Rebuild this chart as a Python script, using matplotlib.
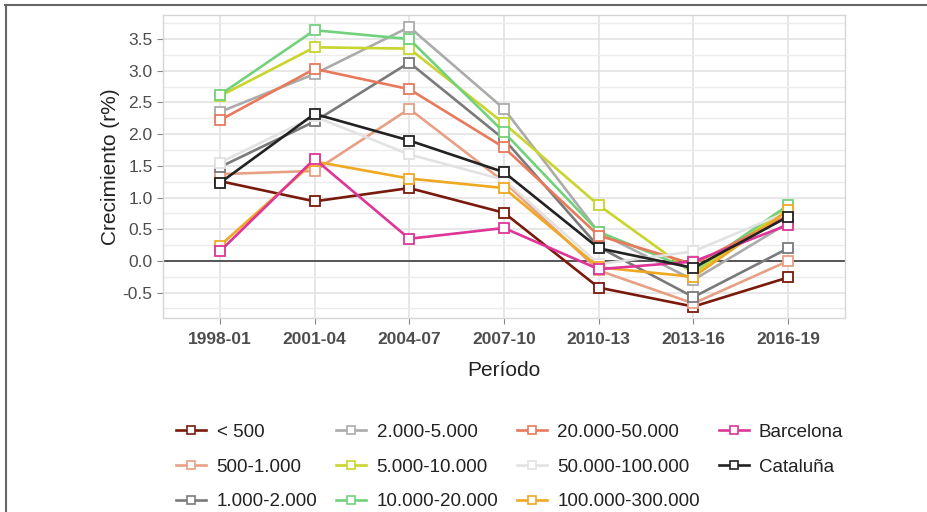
import matplotlib
matplotlib.use("Agg")
import matplotlib.pyplot as plt
from matplotlib.lines import Line2D
from matplotlib.ticker import MultipleLocator

plt.rcParams['font.family'] = ['Liberation Sans', 'DejaVu Sans']

periodos = ['1998-01', '2001-04', '2004-07', '2007-10', '2010-13', '2013-16', '2016-19']

grupos = ['< 500', '500-1.000', '1.000-2.000', '2.000-5.000', '5.000-10.000',
          '10.000-20.000', '20.000-50.000', '50.000-100.000', '100.000-300.000',
          'Barcelona', 'Cataluña']

menos_500 = [1.26, 0.94, 1.15, 0.76, -0.42, -0.72, -0.26]
g500_1000 = [1.37, 1.42, 2.40, 1.25, -0.15, -0.67, 0.00]
g1000_2000 = [1.48, 2.20, 3.13, 1.92, 0.22, -0.57, 0.20]
g2000_5000 = [2.35, 2.95, 3.69, 2.40, 0.45, -0.30, 0.60]
g5000_10000 = [2.60, 3.37, 3.35, 2.17, 0.88, -0.20, 0.84]
g10000_20000 = [2.62, 3.64, 3.50, 2.03, 0.46, -0.15, 0.88]
g20000_50000 = [2.22, 3.03, 2.71, 1.79, 0.40, -0.05, 0.72]
g50000_100000 = [1.55, 2.28, 1.68, 1.28, -0.05, 0.15, 0.78]
g100000_300000 = [0.24, 1.57, 1.30, 1.15, -0.10, -0.25, 0.80]
barcelona = [0.15, 1.61, 0.35, 0.52, -0.13, -0.01, 0.57]
cataluna = [1.23, 2.32, 1.90, 1.40, 0.20, -0.11, 0.70]

series = [menos_500, g500_1000, g1000_2000, g2000_5000, g5000_10000, g10000_20000,
          g20000_50000, g50000_100000, g100000_300000, barcelona, cataluna]

colores = ['#7a1a0c', '#e8a084', '#7a7a7a', '#ababab', '#c9d42c', '#72d27c',
           '#e87a5c', '#e2e2e2', '#f0a822', '#de3598', '#222222']

fig = plt.figure(figsize=(9.28, 5.12), dpi=100)
ax = fig.add_axes([163 / 928, 1 - 318 / 512, (845 - 163) / 928, (318 - 15) / 512])

x = list(range(len(periodos)))

# grid de fondo
ax.set_axisbelow(True)
ax.yaxis.set_major_locator(MultipleLocator(0.5))
ax.yaxis.set_minor_locator(MultipleLocator(0.25))
ax.grid(which='major', color='#e3e3e3', linewidth=1.2)
ax.grid(which='minor', axis='y', color='#ececec', linewidth=1.0)
ax.axhline(0, color='#555555', linewidth=1.4, zorder=1.5)

for nombre, valores, color in zip(grupos, series, colores):
    ax.plot(x, valores, color=color, linewidth=1.9, marker='s', markersize=7,
            markerfacecolor='white', markeredgecolor=color, markeredgewidth=1.3,
            label=nombre, zorder=2)

ax.set_xlim(-0.6, 6.6)
ax.set_ylim(-0.9, 3.88)
ax.set_xticks(x)
ax.set_xticklabels(periodos, fontweight='bold')
ax.set_yticks([-0.5, 0.0, 0.5, 1.0, 1.5, 2.0, 2.5, 3.0, 3.5])
ax.set_yticklabels(['-0.5', '0.0', '0.5', '1.0', '1.5', '2.0', '2.5', '3.0', '3.5'])

ax.tick_params(axis='both', which='major', colors='#888888', length=4, width=0.8,
               labelsize=12.5, labelcolor='#4d4d4d')
ax.tick_params(axis='y', which='minor', length=0)
ax.tick_params(axis='x', pad=6)

for s in ax.spines.values():
    s.set_color('#d6d6d6')
    s.set_linewidth(1.0)

ax.set_xlabel('Período', fontsize=15, color='#222222', labelpad=10)
ax.set_ylabel('Crecimiento (r%)', fontsize=15, color='#222222', labelpad=2)

handles = [Line2D([0], [0], color=c, linewidth=1.9, marker='s', markersize=6,
                  markerfacecolor='white', markeredgecolor=c, markeredgewidth=1.2)
           for c in colores]
fig.legend(handles, grupos, loc='center left', bbox_to_anchor=(167 / 928, 1 - 467 / 512),
           ncol=4, frameon=False, fontsize=13.5, handlelength=1.6, handletextpad=0.55,
           columnspacing=1.0, labelspacing=0.94, borderpad=0, labelcolor='#222222')

# marco exterior
fig.add_artist(Line2D([5 / 928, 1], [1 - 5 / 512, 1 - 5 / 512], color='#666666', linewidth=1.5))
fig.add_artist(Line2D([6 / 928, 6 / 928], [0, 1 - 5 / 512], color='#666666', linewidth=1.5))

fig.savefig('out.png', dpi=100)
